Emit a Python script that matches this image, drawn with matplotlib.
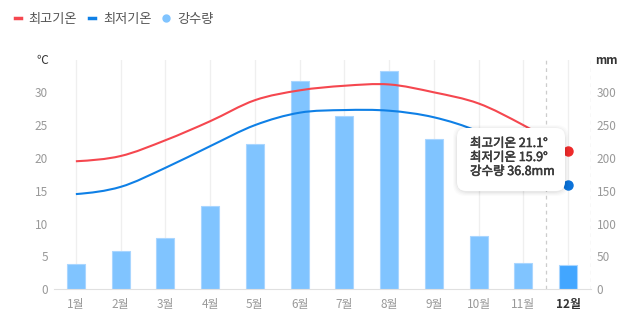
import numpy as np
import matplotlib
matplotlib.use('Agg')
import matplotlib.pyplot as plt
import matplotlib.patheffects as pe
from matplotlib.path import Path
from matplotlib.patches import PathPatch, FancyBboxPatch
from matplotlib.lines import Line2D

plt.rcParams['font.family'] = ['Noto Sans CJK KR', 'DejaVu Sans']

months = ['1월', '2월', '3월', '4월', '5월', '6월', '7월', '8월', '9월', '10월', '11월', '12월']
t_max = [19.5, 20.3, 22.7, 25.6, 28.8, 30.3, 31.0, 31.2, 30.0, 28.3, 25.0, 21.1]
t_min = [14.5, 15.6, 18.5, 21.8, 25.0, 26.9, 27.3, 27.2, 26.2, 24.0, 20.3, 15.9]
rain = [38.1, 57.9, 77.7, 127.0, 221.0, 318.0, 264.6, 332.8, 228.6, 81.2, 40.1, 36.8]

RED = '#f5474f'
BLUE = '#0f80e6'
BAR = '#80c4ff'
BAR_HL = '#42a6ff'
GRAY = '#999999'
DARK = '#333333'


def smooth_path(xs, ys):
    # catmull-rom style curve through the points, as bezier segments
    xs = np.asarray(xs, float)
    ys = np.asarray(ys, float)
    m = np.gradient(ys, xs)
    m[0] = (ys[1] - ys[0]) / (xs[1] - xs[0]) * 0.5
    m[-1] = (ys[-1] - ys[-2]) / (xs[-1] - xs[-2])
    verts = [(xs[0], ys[0])]
    codes = [Path.MOVETO]
    for i in range(len(xs) - 1):
        h = xs[i + 1] - xs[i]
        verts += [(xs[i] + h / 3, ys[i] + m[i] * h / 3),
                  (xs[i + 1] - h / 3, ys[i + 1] - m[i + 1] * h / 3),
                  (xs[i + 1], ys[i + 1])]
        codes += [Path.CURVE4] * 3
    return Path(verts, codes)


W, H = 640, 327
fig = plt.figure(figsize=(6.4, 3.27), dpi=100)
ax2 = fig.add_axes([53.5 / W, 37.7 / H, 537 / W, 229.8 / H])
ax = ax2.twinx()
ax.set_zorder(ax2.get_zorder() + 1)
ax.patch.set_visible(False)

x = np.arange(len(months))

# precipitation bars (right axis)
colors = [BAR] * (len(x) - 1) + [BAR_HL]
ax2.bar(x, rain, width=0.4, color=colors, edgecolor='#a9d6ff', linewidth=0.8, zorder=2)
ax2.set_ylim(0, 350)
ax2.set_xlim(-0.5, len(x) - 0.5)
for xi in x:
    ax2.axvline(xi, color='#efefef', lw=0.9, zorder=0)
ax2.axvline(len(x) - 1.5, color='#cccccc', lw=0.9, ls=(0, (3, 3)), zorder=1)
ax2.axvline(len(x) - 0.5, color='#cccccc', lw=0.9, ls=(0, (3, 3)), zorder=1)

# temperature curves (left axis)
ax.add_patch(PathPatch(smooth_path(x, t_max), fill=False, edgecolor=RED, lw=1.5, zorder=3))
ax.add_patch(PathPatch(smooth_path(x, t_min), fill=False, edgecolor=BLUE, lw=1.5, zorder=3))
ax.plot(x[-1], t_max[-1], 'o', ms=6.5, color='#ee2a2a', zorder=5, clip_on=False)
ax.plot(x[-1], t_min[-1], 'o', ms=6.5, color='#0b72d9', zorder=5, clip_on=False)
ax.set_ylim(0, 35)
ax.set_xlim(-0.5, len(x) - 0.5)

# axes: left ticks on the temperature scale, right on precipitation
ax.yaxis.tick_left()
ax2.yaxis.tick_right()
ax.set_yticks(np.arange(0, 31, 5))
ax2.set_yticks(np.arange(0, 301, 50))
ax.tick_params(axis='y', length=0, pad=4, labelsize=8.5, labelcolor=GRAY)
ax2.tick_params(axis='y', length=0, pad=4.5, labelsize=8.5, labelcolor=GRAY)
ax.set_xticks(x)
ax2.set_xticks(x)
ax2.set_xticklabels(months)
ax.tick_params(axis='x', bottom=False, labelbottom=False)
ax2.tick_params(axis='x', length=0, pad=6, labelsize=8.5, labelcolor=GRAY)
lab = ax2.get_xticklabels()[-1]
lab.set_fontweight('bold')
lab.set_color(DARK)

for a in (ax, ax2):
    for s in a.spines.values():
        s.set_visible(False)
ax2.spines['bottom'].set_visible(True)
ax2.spines['bottom'].set_color('#e0e0e0')

fig.text(48 / W, 1 - 60 / H, '℃', ha='right', va='center', fontsize=8.5, color=DARK)
fig.text(595 / W, 1 - 60 / H, 'mm', ha='left', va='center', fontsize=8.5, color=DARK,
         fontweight='bold')

# legend
handles = [Line2D([], [], color=RED, lw=2.5),
           Line2D([], [], color=BLUE, lw=2.5),
           Line2D([], [], color=BAR, marker='o', ms=5, lw=0)]
fig.legend(handles, ['최고기온', '최저기온', '강수량'], loc='center left',
           bbox_to_anchor=(3 / W, 1 - 19 / H), ncol=3, frameon=False,
           handlelength=0.45, handletextpad=0.6, columnspacing=0.9,
           fontsize=9.5, labelcolor='#555555')

# tooltip for the last month, with a soft shadow
x0, x1, y0, y1 = 457, 565, 128, 191
for off, al in [(4, 0.015), (3, 0.02), (2, 0.025), (1, 0.03)]:
    fig.add_artist(FancyBboxPatch(((x0 - off) / W, 1 - (y1 + off + 1) / H),
                                  (x1 - x0 + 2 * off) / W, (y1 - y0 + 2 * off) / H,
                                  boxstyle='round,pad=0,rounding_size=0.02',
                                  transform=fig.transFigure, facecolor='#000000',
                                  edgecolor='none', alpha=al, zorder=9,
                                  mutation_aspect=W / H))
fig.add_artist(FancyBboxPatch((x0 / W, 1 - y1 / H), (x1 - x0) / W, (y1 - y0) / H,
                              boxstyle='round,pad=0,rounding_size=0.014',
                              transform=fig.transFigure, facecolor='white',
                              edgecolor='none', zorder=10,
                              mutation_aspect=W / H))
tip = [f'최고기온 {t_max[-1]}°', f'최저기온 {t_min[-1]}°', f'강수량 {rain[-1]}mm']
for i, t in enumerate(tip):
    fig.text(470 / W, 1 - (143.5 + i * 14) / H, t, ha='left', va='center',
             fontsize=9, color='#3a3a3a', zorder=11,
             path_effects=[pe.withStroke(linewidth=0.4, foreground='#3a3a3a')])

fig.savefig('out.png', dpi=100, facecolor='white')
